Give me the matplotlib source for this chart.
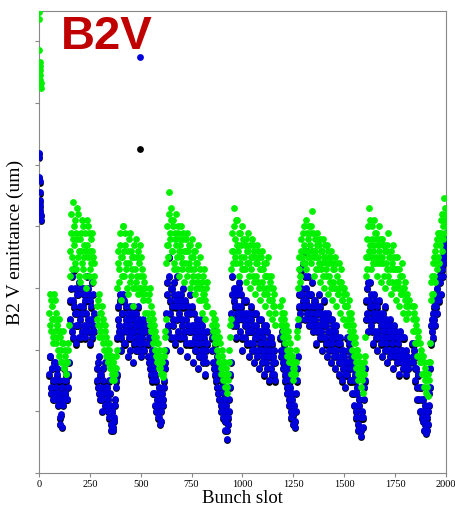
import numpy as np
import matplotlib
matplotlib.use('Agg')
import matplotlib.pyplot as plt
import matplotlib.transforms as mtransforms

# bunch slots are read every 5 slots inside each train, second reading 2 slots later
slot_step = 5
second_offset = 2

# first slot of each train
train_start = [50, 150, 285, 385, 535, 625, 850, 945, 1185, 1275, 1515, 1605, 1835, 1925]

# green emittance per train (axis units = tick spacing)
green_trains = [
    [2.6, 2.9, 2.3, 2.7, 2.2, 2.5, 2.8, 2.1, 2.4, 2.2, 1.9, 2.3, 2.0, 1.8, 2.1, 1.7, 1.9, 1.6, 1.8, 2.0],
    [3.2, 3.9, 3.5, 4.4, 3.7, 4.1, 3.3, 3.8, 4.2, 3.6, 3.1, 3.9, 3.4, 4.0, 3.7, 3.2, 3.6, 4.1, 3.5, 3.9,
     3.3, 3.8, 3.6, 3.1, 3.4],
    [2.7, 2.4, 2.9, 2.3, 2.6, 2.2, 2.5, 2.0, 2.3, 1.9, 2.1, 1.8, 2.0, 1.7, 1.9, 1.5, 1.8, 1.6, 1.6, 1.7],
    [3.0, 3.6, 3.3, 3.9, 2.8, 3.5, 4.0, 3.2, 3.7, 3.4, 2.9, 3.8, 3.1, 3.6, 3.3, 2.7, 3.5, 3.0, 3.8, 3.2,
     2.9, 3.4, 3.7, 3.0, 3.3, 2.8, 3.1, 2.6],
    [2.8, 2.5, 3.0, 2.3, 2.6, 2.1, 2.4, 2.0, 2.2, 1.8, 2.1, 1.7, 1.9, 1.6, 1.8, 1.55, 2.0, 2.3],
    [3.4, 4.0, 3.7, 4.55, 3.9, 4.3, 3.6, 4.1, 3.3, 3.8, 4.2, 3.5, 3.9, 3.2, 3.7, 4.0, 3.4, 3.8, 3.1, 3.6,
     3.9, 3.3, 3.7, 3.0, 3.5, 3.8, 3.2, 3.6, 2.9, 3.4, 3.1, 3.7, 2.8, 3.3, 3.0, 2.6, 3.2, 2.9, 2.5, 3.0, 2.7],
    [2.6, 2.3, 2.5, 2.1, 2.4, 2.0, 2.2, 1.8, 2.1, 1.6, 1.9, 1.5, 1.8, 1.4, 1.7, 1.3, 1.6, 2.0, 2.4],
    [3.3, 3.9, 3.6, 4.3, 3.8, 3.4, 4.1, 3.7, 3.2, 3.9, 3.5, 4.0, 3.3, 3.7, 3.1, 3.6, 3.9, 3.4, 3.0, 3.5,
     3.8, 3.2, 3.6, 2.9, 3.4, 3.7, 3.1, 3.5, 2.8, 3.3, 3.6, 3.0, 3.4, 2.7, 3.2, 2.9, 3.5, 2.6, 3.1, 2.8,
     2.5, 3.0, 2.7, 2.4],
    [2.7, 2.4, 2.6, 2.2, 2.5, 2.1, 2.3, 1.9, 2.2, 1.8, 2.0, 1.6, 1.9, 1.5, 1.8, 1.6, 2.0, 2.3],
    [3.0, 3.5, 3.2, 3.8, 3.4, 4.0, 3.6, 3.3, 3.9, 3.5, 4.0, 3.7, 3.4, 4.25, 3.6, 3.2, 3.8, 3.5, 3.9, 3.3,
     3.7, 3.1, 3.6, 3.4, 3.8, 3.0, 3.5, 3.2, 3.7, 2.9, 3.4, 3.1, 3.6, 2.8, 3.3, 3.0, 3.5, 2.7, 3.2, 2.9,
     3.4, 2.6, 3.1, 2.8, 2.5, 3.0, 2.7, 2.4],
    [2.7, 2.4, 2.6, 2.2, 2.5, 2.0, 2.3, 1.9, 2.1, 1.7, 2.0, 1.5, 1.8, 1.4, 1.7, 1.3, 1.6, 1.9],
    [3.2, 3.8, 3.5, 4.3, 3.7, 3.3, 4.0, 3.6, 4.1, 3.4, 3.9, 3.2, 3.7, 4.0, 3.5, 3.1, 3.8, 3.4, 3.7, 3.0,
     3.6, 3.3, 3.9, 3.1, 3.5, 2.9, 3.4, 3.7, 3.0, 3.3, 2.8, 3.5, 3.1, 2.7, 3.2, 2.9, 3.4, 2.6, 3.0, 2.8,
     2.5, 2.9, 2.6],
    [2.7, 2.3, 2.6, 2.1, 2.4, 1.9, 2.2, 1.8, 2.0, 1.6, 1.9, 1.4, 1.7, 1.3, 1.6, 1.25, 1.5, 1.8],
    [2.8, 3.2, 2.9, 3.5, 3.1, 3.7, 3.3, 3.9, 3.4, 3.8, 4.1, 3.6, 4.0, 4.46, 3.9, 4.2],
]

# second green reading in each train
green_trains_b = [
    [2.4, 2.8, 2.5, 2.1, 2.9, 2.3, 2.6, 2.4, 2.0, 2.5, 2.2, 1.8, 2.1, 2.3, 1.7, 2.0, 1.6, 1.8, 2.1, 2.4],
    [3.6, 4.2, 3.3, 3.8, 4.0, 3.4, 3.9, 4.3, 3.5, 3.2, 3.8, 3.6, 4.1, 3.3, 3.5, 3.9, 3.0, 3.7, 4.0, 3.2,
     3.6, 3.4, 3.9, 3.5, 3.2],
    [2.5, 2.8, 2.2, 2.6, 2.4, 2.7, 2.1, 2.4, 2.2, 2.0, 1.8, 2.1, 1.7, 1.9, 1.6, 1.8, 1.5, 1.7, 1.9, 2.0],
    [3.4, 3.1, 3.7, 3.5, 3.2, 4.0, 3.6, 3.9, 3.3, 3.0, 3.6, 3.4, 3.9, 3.2, 3.5, 3.0, 3.7, 3.3, 3.1, 3.5,
     3.6, 3.0, 3.2, 3.5, 2.9, 3.2, 2.9, 3.0],
    [2.6, 2.9, 2.4, 2.7, 2.3, 2.5, 2.2, 2.3, 1.9, 2.1, 1.9, 2.0, 1.7, 1.8, 1.6, 1.9, 2.2, 2.5],
    [3.7, 3.5, 4.2, 3.8, 4.1, 3.6, 4.0, 3.4, 3.9, 3.7, 3.3, 4.0, 3.6, 3.8, 3.5, 3.3, 3.9, 3.6, 3.4, 3.8,
     3.2, 3.6, 3.4, 3.7, 3.3, 3.1, 3.5, 3.3, 3.6, 3.0, 3.4, 3.2, 3.0, 3.5, 2.8, 3.1, 2.9, 3.3, 2.8, 2.7, 3.1],
    [2.4, 2.6, 2.2, 2.5, 2.2, 2.3, 1.9, 2.2, 1.7, 2.0, 1.7, 1.8, 1.5, 1.6, 1.4, 1.5, 1.8, 2.2, 2.5],
    [3.6, 3.4, 4.0, 3.5, 4.1, 3.7, 3.6, 3.9, 3.4, 3.7, 3.3, 3.8, 3.5, 3.3, 3.8, 3.4, 3.6, 3.2, 3.7, 3.3,
     3.5, 3.7, 3.1, 3.5, 3.2, 3.4, 3.6, 3.0, 3.3, 3.5, 3.1, 3.3, 2.9, 3.2, 3.4, 3.0, 3.2, 2.8, 3.0, 3.2,
     2.8, 2.7, 2.9, 2.6],
    [2.5, 2.8, 2.3, 2.6, 2.3, 2.4, 2.0, 2.3, 1.9, 2.1, 1.8, 1.9, 1.7, 1.7, 1.6, 1.8, 2.2, 2.5],
    [3.3, 3.1, 3.6, 3.5, 3.9, 3.7, 3.4, 4.1, 3.6, 3.8, 3.5, 3.9, 4.0, 3.6, 3.9, 3.5, 3.6, 3.3, 3.7, 3.5,
     3.4, 3.8, 3.3, 3.6, 3.2, 3.5, 3.7, 3.3, 3.4, 3.6, 3.2, 3.5, 3.0, 3.4, 3.1, 3.3, 3.0, 3.4, 2.9, 3.1,
     3.0, 3.3, 2.8, 3.0, 2.9, 2.7, 2.9, 2.7],
    [2.5, 2.8, 2.3, 2.6, 2.2, 2.4, 2.1, 2.2, 1.8, 2.0, 1.6, 1.9, 1.6, 1.7, 1.5, 1.6, 1.8, 2.2],
    [3.5, 3.3, 4.0, 3.6, 4.1, 3.5, 3.8, 3.4, 3.7, 3.9, 3.5, 3.8, 3.4, 3.6, 3.8, 3.4, 3.5, 3.7, 3.2, 3.6,
     3.4, 3.7, 3.2, 3.5, 3.3, 3.6, 3.1, 3.3, 3.5, 3.1, 3.3, 3.0, 3.3, 3.0, 2.9, 3.2, 3.0, 2.9, 3.1, 2.7,
     2.8, 2.7, 2.8],
    [2.5, 2.7, 2.3, 2.5, 2.1, 2.3, 1.9, 2.1, 1.8, 1.9, 1.6, 1.8, 1.5, 1.5, 1.4, 1.6, 1.8, 2.1],
    [3.1, 2.9, 3.4, 3.2, 3.6, 3.4, 3.8, 3.5, 3.9, 3.7, 3.9, 4.2, 3.8, 4.1, 4.3, 4.0],
]

# blue emittance per train
blue_trains = [
    [1.6, 1.9, 1.3, 1.7, 1.5, 1.2, 1.8, 1.4, 1.6, 1.1, 1.3, 0.8, 0.95, 1.4, 1.2, 1.7, 1.3, 1.5, 1.2, 1.6],
    [2.5, 3.0, 2.3, 2.8, 3.3, 2.6, 2.1, 2.9, 2.4, 3.1, 2.7, 2.2, 2.6, 3.0, 2.4, 2.8, 2.3, 3.2, 2.5, 2.9,
     2.1, 2.7, 3.1, 2.4, 2.6],
    [1.7, 1.4, 1.9, 1.2, 1.6, 1.0, 1.5, 1.3, 1.8, 1.1, 1.4, 1.2, 0.9, 1.3, 0.7, 1.0, 0.75, 0.85, 1.2, 1.5],
    [2.2, 2.7, 2.4, 2.9, 2.0, 2.6, 2.3, 2.8, 2.1, 2.5, 1.9, 2.4, 2.7, 2.2, 2.6, 1.8, 2.3, 2.5, 2.0, 2.4,
     2.7, 2.1, 2.3, 1.9, 2.2, 2.5, 2.0, 2.3],
    [2.1, 1.8, 2.4, 1.6, 2.0, 1.3, 1.7, 1.1, 1.5, 1.2, 0.9, 1.4, 0.8, 1.0, 1.3, 1.1, 1.5, 1.8],
    [2.6, 3.1, 2.4, 3.5, 2.8, 2.2, 3.0, 2.5, 2.9, 2.1, 2.7, 3.2, 2.3, 2.6, 2.0, 2.8, 2.4, 3.0, 2.2, 2.5,
     1.9, 2.7, 2.3, 2.9, 2.1, 2.4, 1.8, 2.6, 2.2, 2.0, 2.5, 1.7, 2.3, 2.1, 1.9, 2.4, 1.8, 2.2, 1.6, 2.0, 2.3],
    [2.2, 1.8, 2.4, 1.6, 2.0, 1.4, 1.8, 1.2, 1.6, 1.0, 1.4, 0.9, 1.2, 0.7, 1.1, 0.55, 0.8, 1.2, 1.6],
    [2.6, 3.2, 2.4, 3.0, 2.7, 2.2, 2.9, 2.5, 3.1, 2.3, 2.7, 2.0, 2.6, 2.4, 2.8, 2.1, 2.5, 1.9, 2.3, 2.7,
     2.0, 2.4, 1.8, 2.2, 2.6, 1.9, 2.3, 1.7, 2.1, 2.5, 1.8, 2.2, 1.6, 2.0, 2.4, 1.7, 2.1, 1.5, 1.9, 2.2,
     1.6, 1.8, 2.0, 1.5],
    [2.2, 1.9, 2.3, 1.7, 2.0, 1.5, 1.8, 1.3, 1.6, 1.1, 1.4, 0.9, 1.2, 0.8, 1.0, 0.85, 1.3, 1.7],
    [2.4, 2.9, 2.6, 3.3, 2.8, 3.6, 2.5, 3.0, 3.6, 3.2, 2.4, 2.9, 2.6, 3.1, 2.3, 2.8, 2.5, 2.1, 2.7, 2.4,
     2.9, 2.2, 2.6, 2.0, 2.5, 2.8, 2.2, 2.4, 1.9, 2.6, 2.1, 2.3, 1.8, 2.5, 2.0, 2.2, 1.7, 2.4, 1.9, 2.1,
     1.6, 2.2, 1.8, 1.5, 2.0, 1.7, 1.4, 1.8],
    [2.2, 1.8, 2.1, 1.5, 1.9, 1.3, 1.7, 1.1, 1.5, 0.9, 1.3, 0.7, 1.1, 0.6, 0.9, 0.75, 1.2, 1.5],
    [2.5, 3.0, 2.3, 2.8, 3.1, 2.4, 2.7, 2.1, 2.9, 2.3, 2.6, 2.0, 2.5, 2.8, 2.2, 2.4, 1.9, 2.6, 2.3, 2.0,
     2.5, 1.8, 2.2, 2.4, 1.9, 2.3, 2.1, 1.7, 2.4, 2.0, 2.2, 1.8, 2.1, 1.6, 2.3, 1.9, 2.0, 1.7, 2.2, 1.8,
     1.6, 1.9, 1.7],
    [2.1, 1.8, 2.0, 1.5, 1.7, 1.2, 1.6, 1.0, 1.4, 0.9, 1.2, 0.7, 1.1, 0.65, 0.9, 0.8, 1.1, 1.4],
    [2.1, 2.5, 2.2, 2.7, 2.4, 2.9, 2.6, 3.1, 2.8, 3.3, 2.9, 3.5, 3.2, 3.7, 3.4, 3.9],
]

# second blue reading in each train
blue_trains_b = [
    [1.9, 1.4, 1.7, 1.2, 1.8, 1.5, 1.3, 1.7, 1.2, 1.5, 0.9, 1.2, 0.75, 1.1, 1.5, 1.3, 1.6, 1.2, 1.4, 1.8],
    [2.8, 2.4, 3.2, 2.2, 2.7, 3.0, 2.4, 2.6, 2.9, 2.2, 2.5, 3.0, 2.3, 2.7, 2.9, 2.2, 2.6, 2.4, 3.0, 2.3,
     2.8, 2.5, 2.2, 2.9, 2.3],
    [1.5, 1.8, 1.3, 1.6, 1.4, 1.2, 1.7, 1.1, 1.4, 1.3, 1.0, 1.5, 1.1, 0.8, 1.0, 0.7, 0.9, 1.1, 1.4, 1.6],
    [2.5, 2.3, 2.8, 2.2, 2.6, 2.9, 2.1, 2.4, 2.7, 2.3, 2.6, 2.2, 2.0, 2.5, 2.3, 2.7, 2.1, 2.4, 2.6, 2.2,
     2.0, 2.5, 2.1, 2.4, 2.0, 2.3, 2.1, 2.4],
    [1.9, 2.2, 1.7, 1.9, 1.5, 1.8, 1.3, 1.6, 1.0, 1.3, 1.1, 0.9, 1.2, 0.85, 1.2, 1.4, 1.7, 2.0],
    [2.9, 2.3, 3.2, 2.6, 3.0, 2.7, 2.4, 3.1, 2.2, 2.8, 2.5, 2.9, 2.7, 2.2, 2.9, 2.5, 2.7, 2.3, 2.8, 2.1,
     2.6, 2.4, 2.1, 2.6, 2.3, 2.7, 2.1, 2.4, 2.0, 2.3, 2.1, 2.4, 1.9, 2.2, 2.5, 2.0, 2.3, 1.9, 2.1, 1.8, 2.1],
    [2.0, 2.3, 1.7, 2.1, 1.5, 1.9, 1.3, 1.7, 1.1, 1.5, 1.0, 1.3, 0.85, 1.0, 0.7, 0.9, 1.0, 1.4, 1.8],
    [2.9, 2.5, 2.8, 3.0, 2.4, 2.6, 2.7, 3.0, 2.6, 2.9, 2.2, 2.5, 2.8, 2.2, 2.6, 2.4, 2.3, 2.6, 2.1, 2.5,
     2.3, 2.1, 2.6, 2.0, 2.4, 2.2, 2.0, 2.5, 2.3, 2.0, 2.3, 1.9, 2.4, 2.1, 1.8, 2.3, 1.9, 2.0, 2.2, 1.7,
     2.1, 1.9, 1.6, 1.8],
    [2.0, 2.2, 1.8, 2.1, 1.6, 1.9, 1.4, 1.7, 1.2, 1.5, 1.0, 1.3, 0.95, 1.1, 0.75, 1.0, 1.5, 1.9],
    [2.7, 2.5, 3.0, 2.9, 3.4, 2.7, 3.2, 2.8, 2.6, 2.9, 2.7, 2.5, 2.9, 2.4, 2.7, 2.4, 2.8, 2.6, 2.3, 2.6,
     2.4, 2.7, 2.3, 2.5, 2.2, 2.4, 2.6, 2.1, 2.5, 2.3, 2.0, 2.5, 2.2, 2.1, 2.4, 1.9, 2.3, 2.0, 2.2, 1.8,
     2.1, 1.9, 2.0, 1.7, 1.9, 1.6, 1.8, 1.6],
    [2.0, 2.2, 1.7, 2.0, 1.5, 1.8, 1.3, 1.6, 1.0, 1.4, 0.8, 1.2, 0.9, 0.7, 1.0, 0.9, 1.4, 1.7],
    [2.8, 2.6, 3.1, 2.5, 2.7, 2.9, 2.3, 2.6, 2.5, 2.8, 2.2, 2.7, 2.3, 2.5, 2.6, 2.1, 2.5, 2.2, 2.4, 2.7,
     2.1, 2.4, 2.0, 2.3, 2.5, 2.0, 2.3, 2.2, 1.9, 2.3, 2.0, 2.2, 1.9, 2.2, 2.0, 1.8, 2.2, 1.9, 1.8, 2.0,
     1.8, 1.7, 1.8],
    [1.9, 2.1, 1.7, 1.9, 1.4, 1.6, 1.2, 1.4, 1.0, 1.2, 0.85, 1.0, 0.8, 0.9, 0.7, 1.0, 1.3, 1.7],
    [2.4, 2.3, 2.6, 2.5, 2.8, 2.7, 3.0, 2.9, 3.2, 3.1, 3.4, 3.3, 3.6, 3.5, 3.8, 3.6],
]

# first bunches (slots 0-9) sit far above the rest
first_slots = [0, 1, 2, 3, 4, 5, 6, 7, 8, 9]
first_green = [7.47, 7.37, 6.86, 6.66, 6.60, 6.53, 6.45, 6.37, 6.32, 6.24]
first_blue = [5.19, 5.12, 4.80, 4.73, 4.55, 4.42, 4.34, 4.26, 4.18, 4.10]

# single outlier bunch
odd_slot = [496]
odd_blue = [6.74]
odd_black = [5.28]


def train_xy(trains, shift=0):
    xs = [s + shift + slot_step * np.arange(len(v)) for s, v in zip(train_start, trains)]
    return np.concatenate(xs), np.concatenate(trains)


gx1, gy1 = train_xy(green_trains)
gx2, gy2 = train_xy(green_trains_b, second_offset)
bx1, by1 = train_xy(blue_trains)
bx2, by2 = train_xy(blue_trains_b, second_offset)

x_green = np.concatenate([first_slots, gx1, gx2])
y_green = np.concatenate([first_green, gy1, gy2])
x_blue = np.concatenate([first_slots, bx1, bx2, odd_slot])
y_blue = np.concatenate([first_blue, by1, by2, odd_blue])
y_black = np.concatenate([first_blue, by1, by2, odd_black])

fig = plt.figure(figsize=(4.56, 5.08), dpi=100)
ax = fig.add_axes([0.0855, 0.069, 0.8925, 0.909])

shadow = mtransforms.offset_copy(ax.transData, fig=fig, x=0, y=-1.2, units='dots')
ax.scatter(x_blue, y_black, s=24, color='black', linewidths=0, transform=shadow, zorder=2)
ax.scatter(x_blue, y_blue, s=24, color='#0000dc', linewidths=0, zorder=3)
ax.scatter(x_green, y_green, s=24, color='#00f000', linewidths=0, zorder=4)

ax.set_xlim(0, 2000)
ax.set_ylim(0, 7.49)
ax.set_xticks([0, 250, 500, 750, 1000, 1250, 1500, 1750, 2000])
ax.set_yticks(range(8))
ax.set_yticklabels([])
for lab in ax.get_xticklabels():
    lab.set_family('Liberation Serif')
    lab.set_fontsize(7.5)
ax.tick_params(direction='out', length=3, color='#888888', pad=2)
for sp in ax.spines.values():
    sp.set_color('#888888')

ax.set_xlabel('Bunch slot', family='Liberation Serif', fontsize=13.5, labelpad=1)
ax.set_ylabel('B2 V emittance (um)', family='Liberation Serif', fontsize=14, labelpad=6)

ax.text(0.055, 0.992, 'B2V', transform=ax.transAxes, ha='left', va='top',
        family='Liberation Sans', fontweight='bold', fontsize=34, color='#c00000')

fig.savefig('out.png', dpi=100)
